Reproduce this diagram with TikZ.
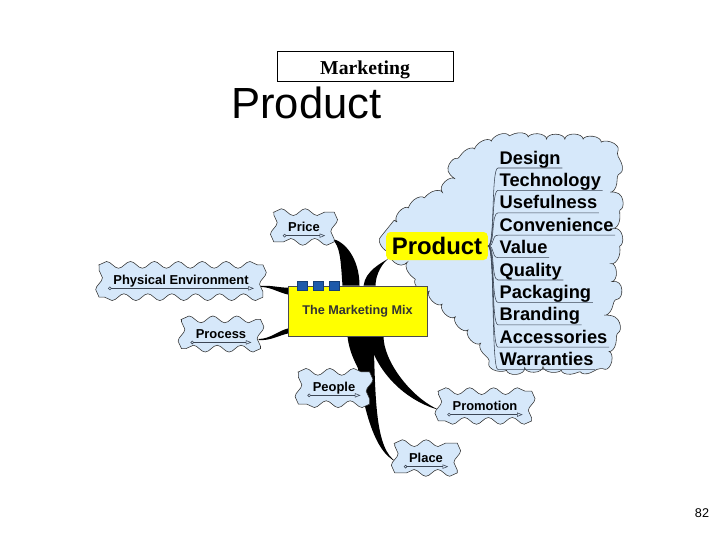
\documentclass[tikz,border=0pt]{standalone}
\usepackage{fontspec}
\setmainfont{Liberation Sans}
\newfontfamily\headserif{Liberation Serif}
\usetikzlibrary{decorations.pathmorphing,arrows.meta,backgrounds}

\definecolor{cloudblue}{RGB}{214,232,250}
\definecolor{mixyellow}{RGB}{255,255,0}
\definecolor{tabblue}{RGB}{30,90,170}
\definecolor{stemgray}{RGB}{60,70,85}

\tikzset{
  leaf/.style={inner xsep=10pt, inner ysep=7pt, font=\fontsize{9.2}{10}\selectfont\bfseries},
  leafskin/.style={fill=cloudblue, draw=black!80, thin,
                   decoration={snake, segment length=17pt, amplitude=2.4pt}},
  leafline/.style={stemgray, thin, {Circle[open,length=2.5pt]}-{Triangle[open,length=4pt,width=3pt]}},
  feat/.style={anchor=base west, inner xsep=1pt, inner ysep=2pt, font=\fontsize{13}{15}\selectfont\bfseries},
  stem/.style={stemgray, thin},
  branch/.style={fill=black},
  tab/.style={fill=tabblue, draw=tabblue!70!black, minimum width=7pt, minimum height=6.5pt, inner sep=0pt}
}

\begin{document}
\begin{tikzpicture}[x=0.025cm, y=-0.025cm]
\useasboundingbox (0,0) rectangle (720,540);

% heading
\node[draw, thin, minimum width=4.4cm, minimum height=0.75cm, text height=11.5pt, text depth=0pt,
      font=\headserif\bfseries\fontsize{14}{16}\selectfont] (mkt) at (365,66) {Marketing};
\node[anchor=base west, inner sep=0pt, font=\fontsize{31}{36}\selectfont] (title) at (231,118) {Product};

% product and its features
\node[fill=mixyellow, rounded corners=3pt, inner xsep=4pt, minimum height=0.7cm,
      font=\fontsize{17}{19}\selectfont\bfseries] (prod) at (437,246) {Product};
\foreach \word [count=\i from 0] in {Design, Technology, Usefulness, Convenience, Value,
    Quality, Packaging, Branding, Accessories, Warranties}{
  \node[feat] (f\i) at (498,{164+22.4*\i}) {\word};
  \draw[stem] (prod.east) .. controls +(7,0) and +(-7,0) .. ([shift={(0,4)}]f\i.base west)
    -- ([shift={(0,4)}]f\i.base east);
}

% the mix
\node[draw=black!70, fill=mixyellow, minimum width=3.475cm, minimum height=1.25cm,
      font=\fontsize{9}{10}\selectfont\bfseries, text=black!80] (mix) at (357.5,311) {The Marketing Mix};
\foreach \k in {0,1,2}
  \node[tab] (tab\k) at ([shift={({-55+16*\k},0)}]mix.north) {};

\node[leaf] (price) at (304,227) {Price};
\node[leaf] (phys) at (181,281) {Physical Environment};
\node[leaf] (proc) at (221,334) {Process};
\node[leaf] (people) at (334,388) {People};
\node[leaf] (promo) at (485,406) {Promotion};
\node[leaf] (place) at (426,458) {Place};
\foreach \leaf in {price, phys, proc, people, promo, place}
  \draw[leafline] ([shift={(9,4)}]\leaf.base west) -- ([shift={(-9,4)}]\leaf.base east);

\node[font=\fontsize{9}{10}\selectfont] (pageno) at (702,513) {82};

\begin{scope}[on background layer]
  \filldraw[fill=cloudblue, draw=black!80, thin, decorate,
            decoration={bumps, segment length=26pt, amplitude=3.5pt}]
    plot[smooth cycle, tension=0.6] coordinates {
      (386,240) (397,222) (413,207) (430,198) (443,190) (450,174) (458,163)
      (470,154) (484,146) (500,140) (520,138) (545,139) (570,139) (595,142)
      (608,148) (615,162) (613,180) (617,200) (615,222) (618,243) (611,262)
      (616,283) (609,305) (614,325) (610,345) (606,358) (593,366) (570,369)
      (545,367) (520,369) (503,367) (492,356) (480,343) (467,329) (453,315)
      (438,300) (425,288) (412,270) (398,258)};

  \fill[branch] ([shift={(-15,0)}]mix.north) .. controls +(-2,-28) and +(8,8) .. ([shift={(-2,-3)}]price.south east)
    .. controls +(12,2) and +(0,-28) .. ([shift={(2,0)}]mix.north) -- cycle;
  \fill[branch] ([shift={(6,0)}]mix.north) .. controls +(2,-15) and +(-8,5) .. ([shift={(3,-2)}]prod.south west)
    .. controls +(-6,4) and +(0,-12) .. ([shift={(18,0)}]mix.north) -- cycle;
  \fill[branch] ([shift={(-2,5)}]phys.east) .. controls +(10,-1) and +(-10,0) .. ([shift={(1,2)}]mix.north west)
    -- ([shift={(1,9)}]mix.north west) .. controls +(-10,-2) and +(10,0) .. ([shift={(-2,6)}]phys.east) -- cycle;
  \fill[branch] ([shift={(-2,5)}]proc.east) .. controls +(12,0) and +(-10,2) .. ([shift={(1,-8)}]mix.south west)
    -- ([shift={(1,-3)}]mix.south west) .. controls +(-10,2) and +(12,1) .. ([shift={(-2,6)}]proc.east) -- cycle;
  \fill[branch] ([shift={(-10,0)}]mix.south) .. controls +(2,20) and +(-5,-10) .. ([shift={(-4,-6)}]people.east)
    .. controls +(0,-15) and +(0,18) .. ([shift={(8,0)}]mix.south) -- cycle;
  \fill[branch] ([shift={(-3,0)}]mix.south) .. controls +(5,60) and +(-25,-10) .. ([shift={(2,4)}]place.west)
    .. controls +(-22,-12) and +(2,60) .. ([shift={(16,0)}]mix.south) -- cycle;
  \fill[branch] ([shift={(10,0)}]mix.south) .. controls +(10,40) and +(-30,-8) .. ([shift={(1,4)}]promo.west)
    .. controls +(-28,-12) and +(0,25) .. ([shift={(26,0)}]mix.south) -- cycle;

  % wavy skins of the small clouds
  \foreach \leaf in {price, phys, proc, people, promo, place}
    \filldraw[leafskin] (\leaf.north west) decorate{-- (\leaf.north east)} decorate{-- (\leaf.south east)}
      decorate{-- (\leaf.south west)} decorate{-- (\leaf.north west)} -- cycle;
\end{scope}
\end{tikzpicture}
\end{document}
